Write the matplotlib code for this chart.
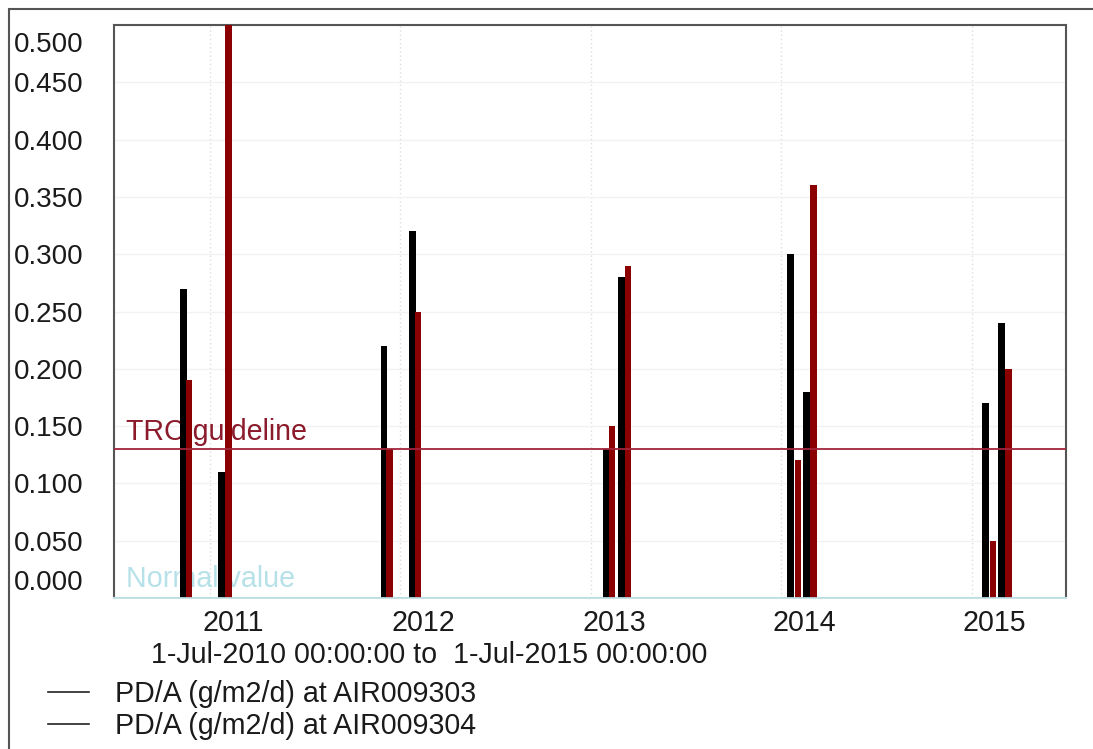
import numpy as np
import pandas as pd
import matplotlib
matplotlib.use("Agg")
import matplotlib.pyplot as plt
import matplotlib.transforms as mtransforms
from matplotlib.lines import Line2D
from matplotlib.patches import Rectangle

plt.rcParams['font.family'] = ['Liberation Sans', 'DejaVu Sans']

# sample dates and values, PD/A (g/m2/d)
dates_303 = ['2010-11-11', '2011-01-23', '2011-12-01', '2012-01-24', '2013-01-30',
             '2013-02-28', '2014-01-19', '2014-02-19', '2015-01-28', '2015-02-28']
vals_303 = [0.27, 0.11, 0.22, 0.32, 0.13, 0.28, 0.30, 0.18, 0.17, 0.24]

dates_304 = ['2010-11-22', '2011-02-05', '2011-12-12', '2012-02-04', '2013-02-10',
             '2013-03-13', '2014-02-02', '2014-03-03', '2015-02-11', '2015-03-12']
vals_304 = [0.19, 0.53, 0.13, 0.25, 0.15, 0.29, 0.12, 0.36, 0.05, 0.20]

labels = ['PD/A (g/m2/d) at AIR009303', 'PD/A (g/m2/d) at AIR009304']
trc_guideline = 0.13
normal_value = 0.0
start, end = '2010-07-01', '2015-07-01'
years = [2011, 2012, 2013, 2014, 2015]
yticks = [0.0, 0.05, 0.10, 0.15, 0.20, 0.25, 0.30, 0.35, 0.40, 0.45, 0.50]

red = '#8b0000'
fs = 20.6

fig = plt.figure(figsize=(10.93, 7.49), dpi=100)
ax = fig.add_axes([114 / 1093, 1 - 598 / 749, (1066 - 114) / 1093, (598 - 25) / 749])

d303 = pd.to_datetime(dates_303)
d304 = pd.to_datetime(dates_304)
ax.bar(d303, vals_303, width=13, color='black', zorder=3)
ax.bar(d304, vals_304, width=13, color=red, zorder=3)

ax.set_xlim(pd.Timestamp(start), pd.Timestamp(end))
ax.set_ylim(0, 0.498)

# guideline and normal value
ax.axhline(trc_guideline, color='#a3243b', lw=1.3, zorder=4)
ax.text(0.013, trc_guideline + 0.003, 'TRC guideline', color='#8b1a2b', fontsize=fs,
        transform=ax.get_yaxis_transform(), va='bottom', ha='left', zorder=2)
ax.axhline(normal_value, color='#b7dde3', lw=2, zorder=4)
ax.text(0.013, normal_value + 0.004, 'Normal value', color='#a9dce4', fontsize=fs,
        transform=ax.get_yaxis_transform(), va='bottom', ha='left', zorder=2, alpha=0.85)

# grid
ax.set_yticks(yticks)
ax.set_yticklabels(['%.3f' % v for v in yticks])
ax.yaxis.grid(True, color='#f2f2f2', lw=1)
year_ticks = [pd.Timestamp('%d-01-01' % y) for y in years]
ax.set_xticks(year_ticks)
ax.set_xticklabels([str(y) for y in years])
ax.xaxis.grid(True, color='#dddddd', lw=1, ls=(0, (1, 2)))
ax.set_axisbelow(True)

ax.tick_params(axis='both', length=0, labelsize=fs, labelcolor='#1a1a1a')
ax.tick_params(axis='y', pad=22, labelsize=20)
ax.tick_params(axis='x', pad=8)

# nudge tick labels like the original
for lab in ax.get_xticklabels():
    lab.set_transform(lab.get_transform() + mtransforms.ScaledTranslation(23 / 100, 0, fig.dpi_scale_trans))
ylabs = ax.get_yticklabels()
ylabs[0].set_transform(ylabs[0].get_transform() + mtransforms.ScaledTranslation(0, 18 / 100, fig.dpi_scale_trans))
ylabs[-1].set_transform(ylabs[-1].get_transform() + mtransforms.ScaledTranslation(0, -17 / 100, fig.dpi_scale_trans))

for s in ['left', 'top', 'right']:
    ax.spines[s].set_color('#555555')
    ax.spines[s].set_linewidth(1.5)
ax.spines['bottom'].set_color('#c9e0e4')
ax.spines['bottom'].set_linewidth(1.5)

fig.text(429 / 1093, 1 - 655 / 749, '1-Jul-2010 00:00:00 to  1-Jul-2015 00:00:00',
         ha='center', va='center', fontsize=fs, color='#1a1a1a')

handles = [Line2D([], [], color='#222222', lw=1.2), Line2D([], [], color='#222222', lw=1.2)]
fig.legend(handles, labels, loc='upper left', bbox_to_anchor=(48 / 1093, 1 - 680 / 749),
           frameon=False, fontsize=fs, handlelength=1.45, handletextpad=0.9,
           labelspacing=0.14, borderpad=0, borderaxespad=0, labelcolor='#1a1a1a')

# outer frame
fig.patches.append(Rectangle((9 / 1093, -0.05), 1.2, 1 - 9 / 749 + 0.05, transform=fig.transFigure,
                             fill=False, edgecolor='#555555', lw=1.5))

fig.savefig('out.png', dpi=100)
